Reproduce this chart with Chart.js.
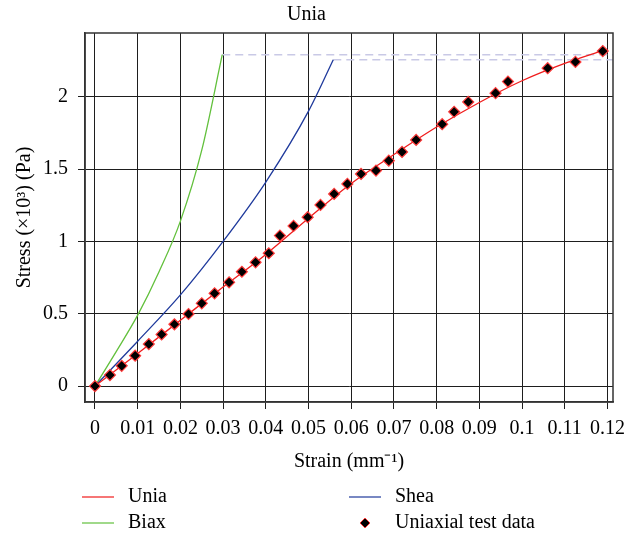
<!DOCTYPE html>
<html>
<head>
<meta charset="utf-8">
<script src="https://cdn.jsdelivr.net/npm/chart.js@4/dist/chart.umd.min.js"></script>
<style>
  html, body { margin: 0; padding: 0; background: #fff; }
  #wrap { width: 624px; height: 539px; }
</style>
</head>
<body>
<div id="wrap"><canvas id="mainChart"></canvas></div>
<script>
// Tick labels
const xTicks = [0, 0.01, 0.02, 0.03, 0.04, 0.05, 0.06, 0.07, 0.08, 0.09, 0.1, 0.11, 0.12];
const yTicks = [0, 0.5, 1, 1.5, 2];

// Model curves (strain, stress x10^3)
const uniaStrain = [0, 0.01, 0.02, 0.03, 0.04, 0.05, 0.06, 0.07, 0.08, 0.09, 0.1, 0.11, 0.119];
const uniaStress = [0, 0.225, 0.455, 0.685, 0.91, 1.16, 1.4, 1.6, 1.79, 1.96, 2.11, 2.23, 2.32];

const biaxStrain = [0, 0.005, 0.01, 0.015, 0.02, 0.025, 0.0298];
const biaxStress = [0, 0.24, 0.49, 0.79, 1.14, 1.63, 2.29];

const sheaStrain = [0, 0.01, 0.02, 0.03, 0.04, 0.05, 0.0558];
const sheaStress = [0, 0.31, 0.63, 1.0, 1.41, 1.9, 2.255];

// Plateau continuations (dashed)
const biaxCapStrain = [0.0298, 0.1213];
const biaxCapStress = [2.29, 2.29];
const sheaCapStrain = [0.0558, 0.1213];
const sheaCapStress = [2.255, 2.255];

// Uniaxial test data
const testStrain = [0, 0.0035, 0.00625, 0.0094, 0.0126, 0.0156, 0.0186, 0.0219, 0.025, 0.028,
  0.0314, 0.0344, 0.0376, 0.0407, 0.0433, 0.0465, 0.0498, 0.0528, 0.056, 0.0591,
  0.0623, 0.0658, 0.0688, 0.0719, 0.0752, 0.0813, 0.0841, 0.0874, 0.0938, 0.0967,
  0.106, 0.1125, 0.1189];
const testStress = [0, 0.076, 0.14, 0.21, 0.29, 0.357, 0.427, 0.498, 0.572, 0.641,
  0.717, 0.79, 0.855, 0.918, 1.04, 1.107, 1.167, 1.252, 1.328, 1.397,
  1.466, 1.489, 1.558, 1.618, 1.701, 1.81, 1.895, 1.964, 2.024, 2.104,
  2.197, 2.24, 2.315];

const FONT = "'Liberation Serif', 'Times New Roman', serif";

function pts(xs, ys) {
    return xs.map((x, i) => ({ x: x, y: ys[i] }));
}

// legend drawn in two columns below the axis
const legendPlugin = {
    id: 'twoColLegend',
    afterDraw(chart) {
        const ctx = chart.ctx;
        const items = chart.data.datasets.filter(d => d.inLegend);
        const cols = [82, 349];
        const rows = [497, 523];
        ctx.save();
        ctx.font = '20px ' + FONT;
        ctx.textBaseline = 'middle';
        ctx.fillStyle = '#000';
        items.forEach((d, i) => {
            const x = cols[i % 2];
            const y = rows[Math.floor(i / 2)];
            if (d.showLine === false) {
                ctx.beginPath();
                ctx.moveTo(x + 16, y - 5);
                ctx.lineTo(x + 21, y);
                ctx.lineTo(x + 16, y + 5);
                ctx.lineTo(x + 11, y);
                ctx.closePath();
                ctx.fillStyle = d.pointBackgroundColor;
                ctx.fill();
                ctx.lineWidth = 1;
                ctx.strokeStyle = d.pointBorderColor;
                ctx.stroke();
            } else {
                ctx.globalAlpha = 0.8;
                ctx.beginPath();
                ctx.moveTo(x, y);
                ctx.lineTo(x + 32, y);
                ctx.lineWidth = 1.5;
                ctx.strokeStyle = d.borderColor;
                ctx.stroke();
                ctx.globalAlpha = 1;
            }
            ctx.fillStyle = '#000';
            ctx.fillText(d.label, x + 46, y);
        });
        ctx.restore();
    }
};

// top and right edges of the plot frame
const framePlugin = {
    id: 'frame',
    afterDraw(chart) {
        const { left, right, top, bottom } = chart.chartArea;
        const ctx = chart.ctx;
        ctx.save();
        ctx.strokeStyle = '#333';
        ctx.lineWidth = 1.5;
        ctx.strokeRect(left, top, right - left, bottom - top);
        ctx.restore();
    }
};

function initializeChart() {
    const ctx = document.getElementById('mainChart').getContext('2d');
    new Chart(ctx, {
        type: 'scatter',
        data: {
            datasets: [
                {
                    label: 'Unia',
                    inLegend: true,
                    data: pts(uniaStrain, uniaStress),
                    showLine: true,
                    borderColor: '#f01c1c',
                    borderWidth: 1.3,
                    pointRadius: 0,
                    cubicInterpolationMode: 'monotone',
                    order: 2
                },
                {
                    label: 'Shea',
                    inLegend: true,
                    data: pts(sheaStrain, sheaStress),
                    showLine: true,
                    borderColor: '#1f3a9c',
                    borderWidth: 1.3,
                    pointRadius: 0,
                    cubicInterpolationMode: 'monotone',
                    order: 3
                },
                {
                    label: 'Biax',
                    inLegend: true,
                    data: pts(biaxStrain, biaxStress),
                    showLine: true,
                    borderColor: '#62c03c',
                    borderWidth: 1.3,
                    pointRadius: 0,
                    cubicInterpolationMode: 'monotone',
                    order: 4
                },
                {
                    label: 'Uniaxial test data',
                    inLegend: true,
                    data: pts(testStrain, testStress),
                    showLine: false,
                    pointStyle: 'rectRot',
                    pointRadius: 5.5,
                    pointBackgroundColor: '#000',
                    pointBorderColor: '#ff3a3a',
                    pointBorderWidth: 1.2,
                    order: 1
                },
                {
                    label: 'biax cap',
                    data: pts(biaxCapStrain, biaxCapStress),
                    showLine: true,
                    borderColor: '#c9c9e6',
                    borderWidth: 1.6,
                    borderDash: [8, 5],
                    pointRadius: 0,
                    order: 5
                },
                {
                    label: 'shea cap',
                    data: pts(sheaCapStrain, sheaCapStress),
                    showLine: true,
                    borderColor: '#c9c9e6',
                    borderWidth: 1.6,
                    borderDash: [8, 5],
                    pointRadius: 0,
                    order: 5
                }
            ]
        },
        options: {
            responsive: true,
            maintainAspectRatio: false,
            animation: false,
            layout: { padding: { left: 0, right: 11, top: 0, bottom: 65 } },
            plugins: {
                legend: { display: false },
                tooltip: { enabled: false },
                title: {
                    display: true,
                    text: 'Unia',
                    color: '#000',
                    font: { family: FONT, size: 20, weight: 'normal', lineHeight: 1.2 },
                    padding: { top: 2.5, bottom: 6.5 }
                }
            },
            scales: {
                x: {
                    type: 'linear',
                    min: -0.00234,
                    max: 0.1213,
                    afterBuildTicks: scale => { scale.ticks = xTicks.map(v => ({ value: v })); },
                    afterFit: scale => { scale.height = 72; scale.paddingLeft = 0; scale.paddingRight = 0; },
                    ticks: {
                        color: '#000',
                        padding: 8,
                        maxRotation: 0,
                        autoSkip: false,
                        font: { family: FONT, size: 20 },
                        callback: v => String(+v.toFixed(2))
                    },
                    grid: { color: '#1e1e1e', lineWidth: 1, tickLength: 7, drawTicks: true },
                    border: { display: true, color: '#333', width: 1.5 },
                    title: {
                        display: true,
                        text: 'Strain (mm\u207B\u00B9)',
                        color: '#000',
                        font: { family: FONT, size: 20, lineHeight: 1.2 },
                        padding: { top: 0, bottom: 0 }
                    }
                },
                y: {
                    type: 'linear',
                    min: -0.11,
                    max: 2.44,
                    afterBuildTicks: scale => { scale.ticks = yTicks.map(v => ({ value: v })); },
                    afterFit: scale => { scale.width = 85; scale.paddingTop = 0; scale.paddingBottom = 0; },
                    ticks: {
                        color: '#000',
                        padding: 10,
                        autoSkip: false,
                        font: { family: FONT, size: 20 },
                        callback: v => String(+v.toFixed(2))
                    },
                    grid: { color: '#1e1e1e', lineWidth: 1, tickLength: 7, drawTicks: true },
                    border: { display: true, color: '#333', width: 1.5 },
                    title: {
                        display: true,
                        text: 'Stress (\u00D710\u00B3) (Pa)',
                        color: '#000',
                        font: { family: FONT, size: 20, lineHeight: 1.2 },
                        padding: { top: 13, bottom: 0 }
                    }
                }
            }
        },
        plugins: [framePlugin, legendPlugin]
    });
}

document.addEventListener('DOMContentLoaded', () => {
    initializeChart();
});
</script>
</body>
</html>
